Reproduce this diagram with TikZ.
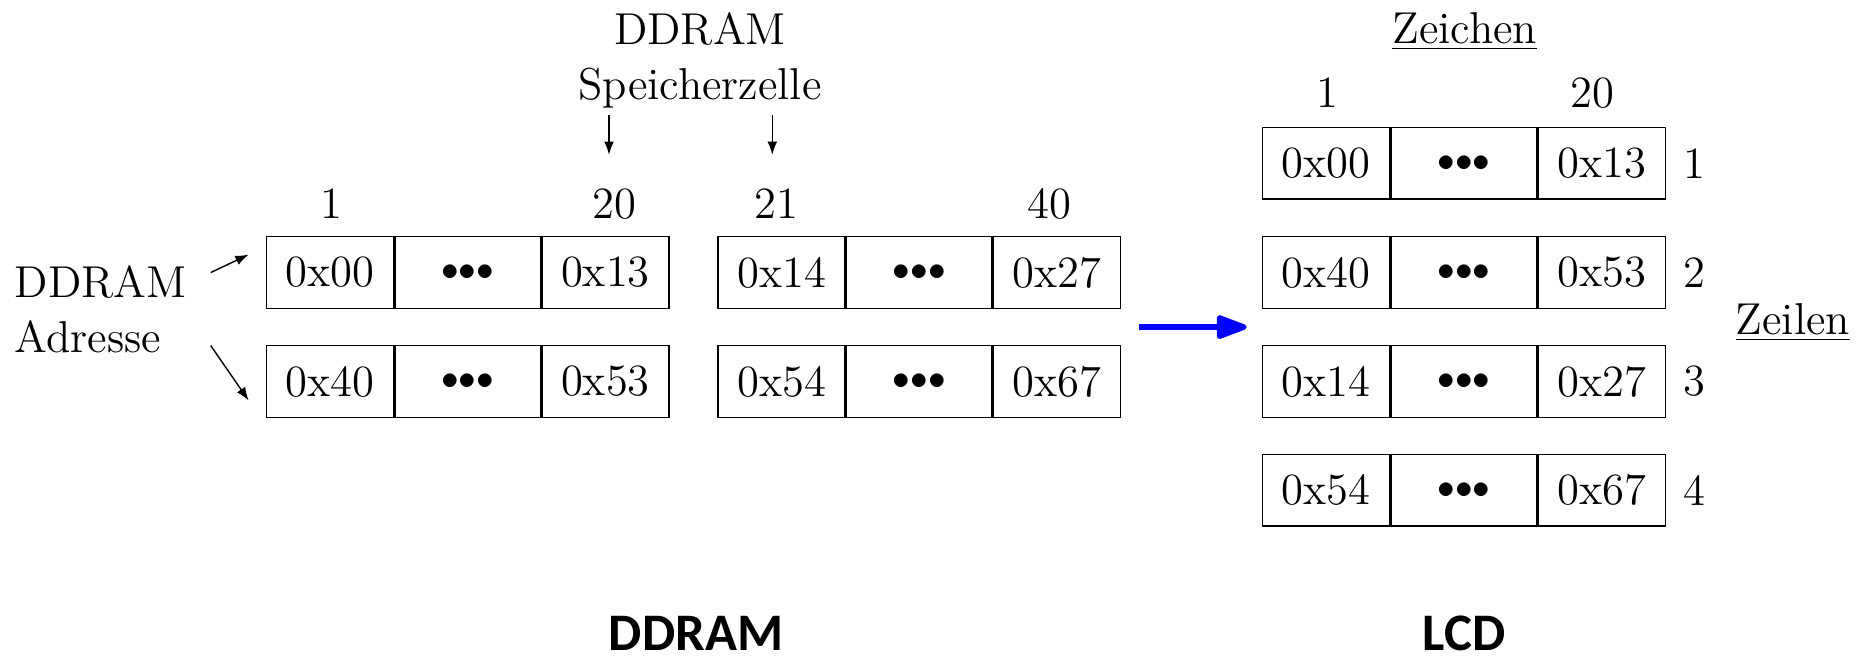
\documentclass[tikz,border=0pt]{standalone}
\usepackage{fontspec}
\newfontfamily\titlefont{Carlito}
\usepackage{tikz}
\usetikzlibrary{calc, positioning, arrows.meta}

\newcommand{\celldots}{{\fontsize{10}{12}\selectfont${\bullet}{\bullet}{\bullet}$}}

\tikzset{
  cell/.style={draw, minimum width=1.27cm, minimum height=0.717cm, inner sep=0pt},
  widecell/.style={cell, minimum width=1.455cm},
  lbl/.style={inner sep=0pt},
  arr/.style={-{Latex[length=3.8pt, width=2.8pt]}},
  title/.style={inner sep=0pt, font=\titlefont\bfseries\fontsize{15}{18}\selectfont},
}

% one row of three memory cells: name, top left corner, first, last
\newcommand{\memrow}[4]{%
  \node[cell, anchor=north west] (#1a) at (#2) {#3};
  \node[widecell, anchor=west] (#1b) at (#1a.east) {\celldots};
  \node[cell, anchor=west] (#1c) at (#1b.east) {#4};
}

\begin{document}
\begin{tikzpicture}[x=0.01cm, y=-0.01cm, font=\fontsize{12.7}{15.6}\selectfont]
  \useasboundingbox (0,0) rectangle (1858,658);

  % DDRAM, two lines of 40 cells
  \memrow{d1}{265.7,236}{0x00}{0x13}
  \memrow{d2}{265.7,345}{0x40}{0x53}
  \memrow{r1}{717.3,236}{0x14}{0x27}
  \memrow{r2}{717.3,345}{0x54}{0x67}
  \node[lbl, anchor=base] (n1) at (331,218.3) {1};
  \node[lbl, anchor=base] (n20) at (614,218.3) {20};
  \node[lbl, anchor=base] (n21) at (776.7,218.3) {21};
  \node[lbl, anchor=base] (n40) at (1049,218.3) {40};

  % labels and pointers
  \node[lbl, anchor=base] (sz) at (700,44.3)
    {\begin{tabular}[t]{@{}c@{}}DDRAM\\Speicherzelle\end{tabular}};
  \coordinate (p20) at ([shift={(-5,-33)}]n20.north);
  \coordinate (p21) at ([shift={(-4.4,-33)}]n21.north);
  \coordinate (s20) at (p20 |- 0,115);
  \coordinate (s21) at (p21 |- 0,115);
  \draw[arr] (s20) -- (p20);
  \draw[arr] (s21) -- (p21);

  \node[lbl, anchor=base west] (adr) at (14,297.3)
    {\begin{tabular}[t]{@{}l@{}}DDRAM\\Adresse\end{tabular}};
  \draw[arr] ([shift={(-55,0)}]d1a.west) -- ([shift={(-17,-18)}]d1a.west);
  \draw[arr] ([shift={(-55,-36)}]d2a.west) -- ([shift={(-17,19)}]d2a.west);

  % LCD, four lines of 20 characters
  \memrow{l1}{1262,126.7}{0x00}{0x13}
  \memrow{l2}{1262,236}{0x40}{0x53}
  \memrow{l3}{1262,345}{0x14}{0x27}
  \memrow{l4}{1262,453.7}{0x54}{0x67}
  \foreach \r in {1,...,4}
    \node[lbl, right=4.9pt of l\r c] (zl\r) {\r};
  \node[lbl, anchor=base] (zch) at (1464.7,43.3) {\underline{Zeichen}};
  \node[lbl, anchor=base] (z1) at (1327.7,107.3) {1};
  \node[lbl, anchor=base] (z20) at (1592.7,107.3) {20};
  \node[lbl, anchor=base west] (zln) at (1735,334) {\underline{Zeilen}};

  % mapping
  \draw[-{Triangle[length=10pt, width=7pt, round]}, blue, line width=1.5pt,
        shorten <=0.176cm, shorten >=0.153cm]
    ($(r1c.south east)!0.5!(r2c.north east)$) -- ($(l2a.south west)!0.5!(l3a.north west)$);

  % captions
  \node[title, anchor=base] (capd) at (696,650) {DDRAM};
  \node[title, anchor=base] (capl) at (1464,650) {LCD};
\end{tikzpicture}
\end{document}
